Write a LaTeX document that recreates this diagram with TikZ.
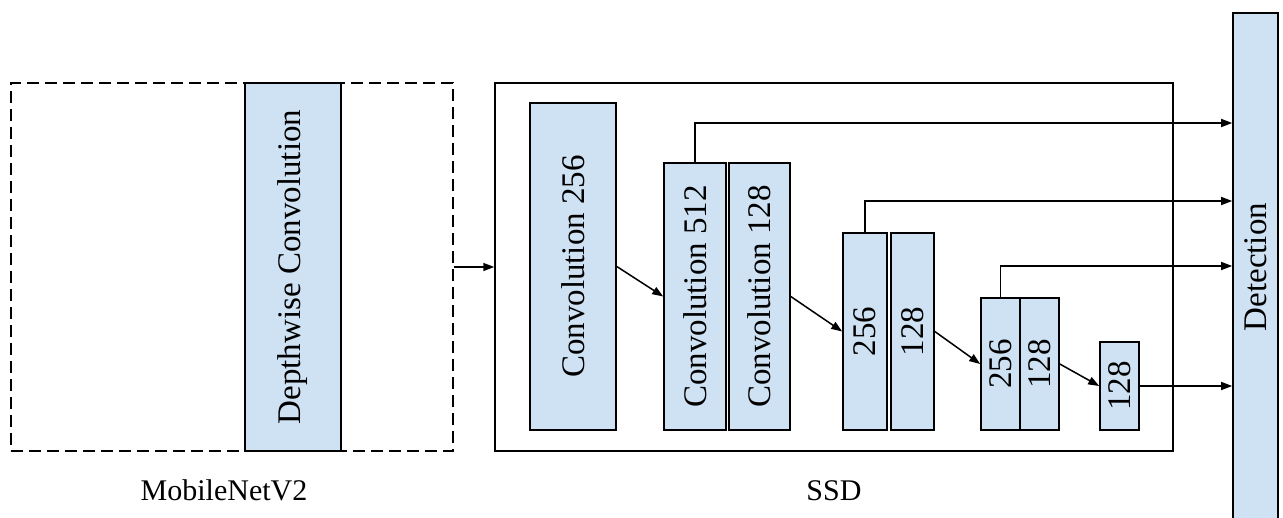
\documentclass[tikz,border=0pt]{standalone}
\usepackage{fontspec}
\setmainfont{Liberation Serif}
\usetikzlibrary{arrows.meta,calc}
\definecolor{boxblue}{HTML}{CFE2F3}
\tikzset{
  blk/.style={draw=black, fill=boxblue, line width=1.6pt, inner sep=0pt},
  txt/.style={rotate=90, font=\fontsize{33}{38}\selectfont},
  frame/.style={draw=black, line width=1.5pt, inner sep=0pt},
  arr/.style={line width=1.5pt, -{Triangle[length=11pt,width=8pt]}},
  lab/.style={font=\fontsize{30}{36}\selectfont, inner sep=0pt},
}
\begin{document}
\begin{tikzpicture}[x=1pt,y=-1pt]
\useasboundingbox (0,0) rectangle (1283,517);
\begin{scope}
\clip (0,0) rectangle (1283,517);
% MobileNetV2 frame
\node[frame, dashed, dash pattern=on 12pt off 6pt, minimum width=442pt, minimum height=368pt] (mb) at (232,267) {};
\node[blk, minimum width=96pt, minimum height=368pt, label={[txt]center:Depthwise Convolution}] (dw) at (293,267) {};
% SSD frame
\node[frame, minimum width=678pt, minimum height=368pt] (ssd) at (834,267) {};
% blocks
\node[blk, minimum width=86pt, minimum height=327pt, label={[txt]center:Convolution 256}] (c256) at (573,266.5) {};
\node[blk, minimum width=62pt, minimum height=267pt, label={[txt]center:Convolution 512}] (c512) at (695,296.5) {};
\node[blk, minimum width=61pt, minimum height=267pt, label={[txt]center:Convolution 128}] (c128) at (759.5,296.5) {};
\node[blk, minimum width=44pt, minimum height=197pt, label={[txt]center:256}] (b256) at (865,331.5) {};
\node[blk, minimum width=43pt, minimum height=197pt, label={[txt]center:128}] (b128) at (912.5,331.5) {};
\node[blk, minimum width=39pt, minimum height=132pt, label={[txt]center:256}] (s256) at (1000.5,364) {};
\node[blk, minimum width=39pt, minimum height=132pt, label={[txt]center:128}] (s128) at (1039.5,364) {};
\node[blk, minimum width=39pt, minimum height=88pt, label={[txt]center:128}] (last) at (1119.5,386) {};
\node[blk, minimum width=45pt, minimum height=508pt, label={[txt]center:Detection}] (det) at (1255.5,267) {};
% labels
\node[lab] (mbl) at ($(mb.south)+(-8,39)$) {MobileNetV2};
\node[lab] (ssdl) at ($(ssd.south)+(0,39)$) {SSD};
% level coordinates
\coordinate (y1) at (0,123);
\coordinate (y2) at (0,201);
\coordinate (y3) at (0,266);
% connectors
\draw[arr] (mb.east) -- (ssd.west);
\draw[arr] (c256.east) -- (c512.west);
\draw[arr] (c128.east) -- (b256.west);
\draw[arr] (b128.east) -- (s256.west);
\draw[arr] (s128.east) -- (last.west);
\draw[arr] (last.east) -- (last.east -| det.west);
\draw[arr] (c512.north) |- (det.west |- y1);
\draw[arr] (b256.north) |- (det.west |- y2);
\draw[arr] (s256.north) |- (det.west |- y3);
\end{scope}
\end{tikzpicture}
\end{document}
